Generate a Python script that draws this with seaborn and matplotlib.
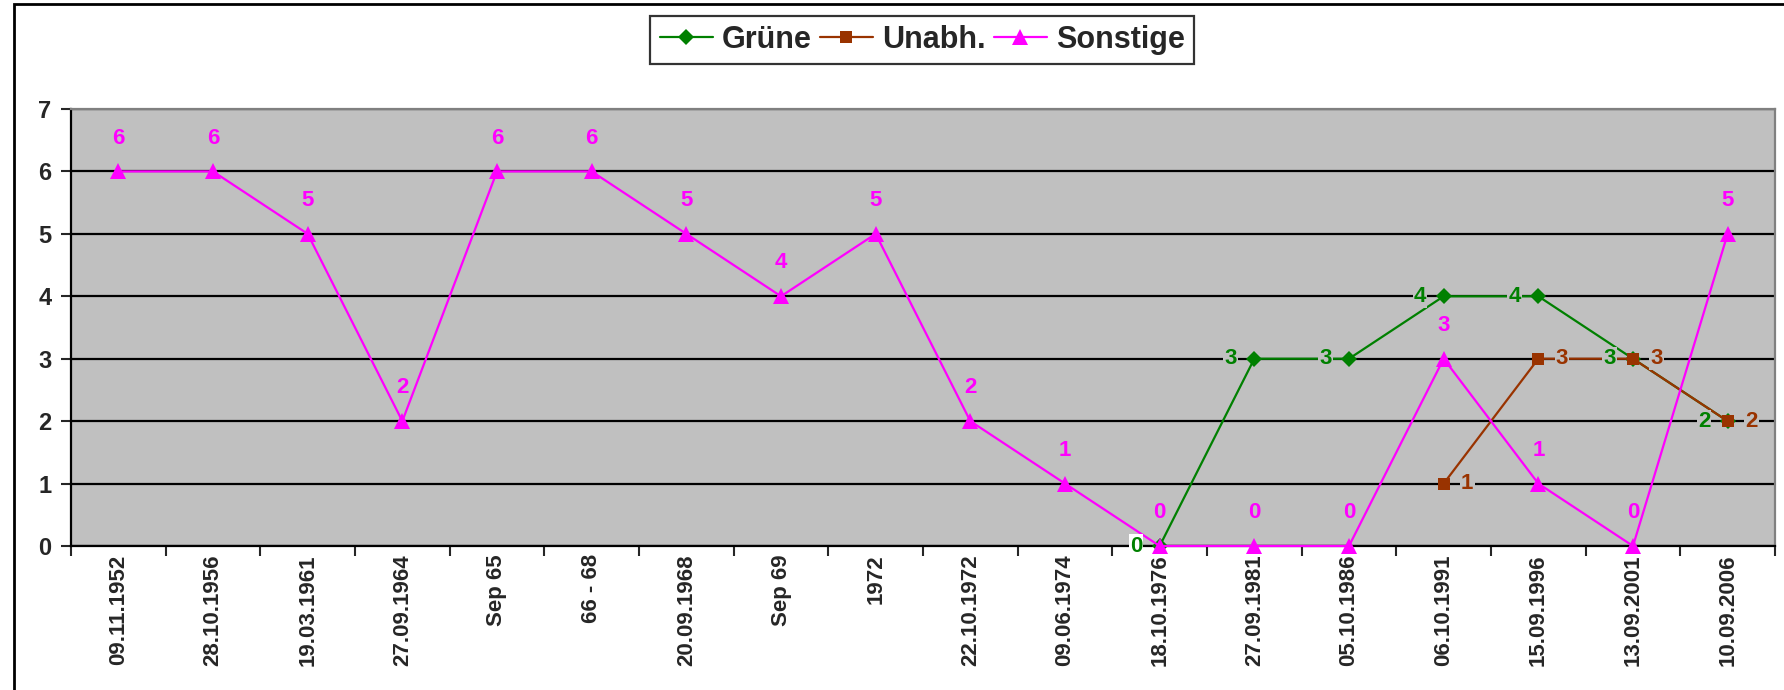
import numpy as np
import pandas as pd
import matplotlib
matplotlib.use('Agg')
import matplotlib.pyplot as plt
import seaborn as sns
from matplotlib.patches import Rectangle

DATES = ['09.11.1952', '28.10.1956', '19.03.1961', '27.09.1964', 'Sep 65', '66 - 68',
         '20.09.1968', 'Sep 69', '1972', '22.10.1972', '09.06.1974', '18.10.1976',
         '27.09.1981', '05.10.1986', '06.10.1991', '15.09.1996', '13.09.2001', '10.09.2006']
GRUENE = [np.nan] * 11 + [0, 3, 3, 4, 4, 3, 2]
UNABH = [np.nan] * 14 + [1, 3, 3, 2]
SONSTIGE = [6, 6, 5, 2, 6, 6, 5, 4, 5, 2, 1, 0, 0, 0, 3, 1, 0, 5]

SERIES = ['Grüne', 'Unabh.', 'Sonstige']
COLORS = {'Grüne': '#008000', 'Unabh.': '#993300', 'Sonstige': '#FF00FF'}
MARKERS = {'Grüne': 'D', 'Unabh.': 's', 'Sonstige': '^'}

rows = []
for name, vals in zip(SERIES, [GRUENE, UNABH, SONSTIGE]):
    for i, v in enumerate(vals):
        rows.append({'pos': i, 'Wert': v, 'Partei': name})
df = pd.DataFrame(rows).dropna()

sns.set_style('white')
plt.rcParams['font.family'] = ['Liberation Sans', 'DejaVu Sans']
plt.rcParams['font.weight'] = 'bold'

fig = plt.figure(figsize=(17.84, 6.9), dpi=100)
ax = fig.add_axes([71 / 1784, 144 / 690, 1704 / 1784, 437 / 690])
ax.set_facecolor('#C0C0C0')

sns.lineplot(data=df, x='pos', y='Wert', hue='Partei', style='Partei',
             hue_order=SERIES, style_order=SERIES, palette=COLORS,
             markers=MARKERS, dashes=False, markersize=9, linewidth=1.6,
             markeredgewidth=0, ax=ax, legend=True, zorder=3)
for line in ax.lines:
    line.set_clip_on(False)
    if line.get_marker() == '^':
        line.set_markersize(12)
    elif line.get_marker() == 'D':
        line.set_markersize(8.5)

ax.set_xlim(-0.5, len(DATES) - 0.5)
ax.set_ylim(0, 7)
ax.set_yticks(range(8))
ax.yaxis.grid(True, color='black', linewidth=1.6, zorder=1)
ax.set_axisbelow(True)
ax.set_xticks(range(len(DATES)))
ax.set_xticklabels(DATES, rotation=90, fontsize=16, fontweight='bold')
ax.set_xticks(np.arange(-0.5, len(DATES), 1), minor=True)
ax.tick_params(axis='x', which='major', length=0, pad=6)
ax.tick_params(axis='x', which='minor', length=7, width=1.5, direction='out', bottom=True)
ax.tick_params(axis='y', length=7, width=1.5, direction='out', left=True, labelsize=17, pad=7)
for lab in ax.get_yticklabels():
    lab.set_fontweight('bold')
ax.set_xlabel('')
ax.set_ylabel('')
for s in ['left', 'bottom']:
    ax.spines[s].set_color('black')
    ax.spines[s].set_linewidth(1.6)
for s in ['top', 'right']:
    ax.spines[s].set_color('#808080')
    ax.spines[s].set_linewidth(1.6)

# data labels
for i, v in enumerate(SONSTIGE):
    ax.annotate(str(v), (i, v), xytext=(0, 24), textcoords='offset points',
                ha='center', va='center', color=COLORS['Sonstige'],
                fontsize=16, fontweight='bold', zorder=5)
for i, v in enumerate(GRUENE):
    if np.isnan(v):
        continue
    fc = 'white' if v == 0 else '#C0C0C0'
    ax.annotate(str(int(v)), (i, v), xytext=(-17, 0), textcoords='offset points',
                ha='center', va='center', color=COLORS['Grüne'],
                fontsize=16, fontweight='bold', zorder=5,
                bbox=dict(boxstyle='square,pad=0.05', fc=fc, ec='none'))
for i, v in enumerate(UNABH):
    if np.isnan(v):
        continue
    ax.annotate(str(int(v)), (i, v), xytext=(17, 0), textcoords='offset points',
                ha='center', va='center', color=COLORS['Unabh.'],
                fontsize=16, fontweight='bold', zorder=5,
                bbox=dict(boxstyle='square,pad=0.05', fc='#C0C0C0', ec='none'))

handles, labels = ax.get_legend_handles_labels()
ax.get_legend().remove()
leg = fig.legend(handles, labels, loc='center', bbox_to_anchor=(0.517, 0.942),
                 ncol=3, frameon=True, fancybox=False, edgecolor='black',
                 fontsize=22, handlelength=1.75, columnspacing=0.25,
                 handletextpad=0.3, borderpad=0.3, borderaxespad=0)
leg.get_frame().set_linewidth(1.6)
for t in leg.get_texts():
    t.set_fontweight('bold')

fig.add_artist(Rectangle((14 / 1784, -0.1), 2, (690 - 4) / 690 + 0.1,
                         transform=fig.transFigure, fill=False,
                         edgecolor='black', linewidth=2))

fig.savefig('out.png', dpi=100)
